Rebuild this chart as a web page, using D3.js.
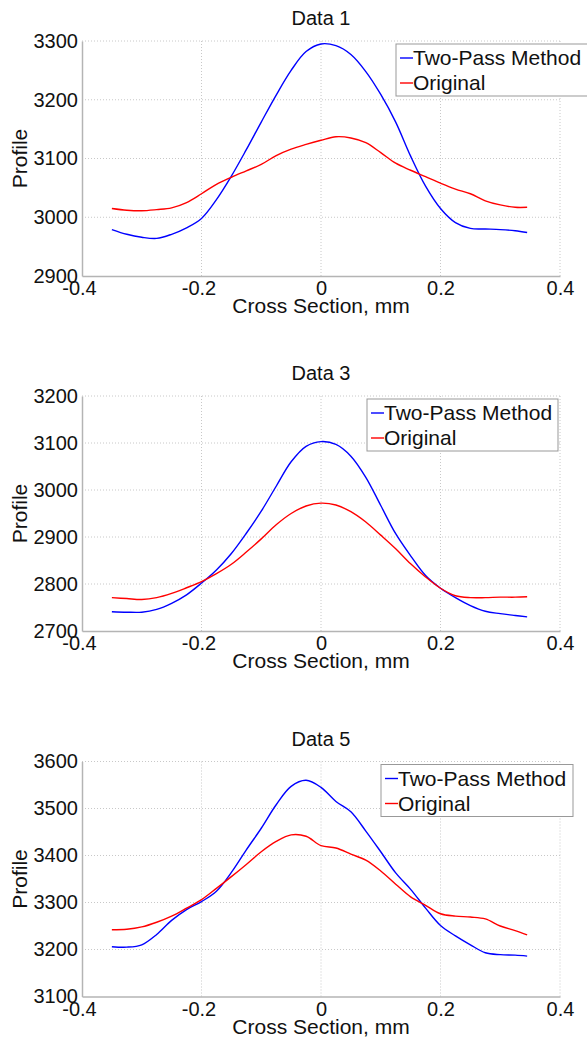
<!DOCTYPE html>
<html>
<head>
<meta charset="utf-8">
<script src="https://cdn.jsdelivr.net/npm/d3@7"></script>
<style>
  body { margin: 0; background: #fff; }
  svg { display: block; font-family: "Liberation Sans", Arial, sans-serif; }
</style>
</head>
<body>
<svg id="chart"></svg>
<script>
// cross section positions (mm), shared by every series
const xs = [-0.35, -0.325, -0.3, -0.275, -0.25, -0.225, -0.2, -0.175, -0.15, -0.125, -0.1, -0.075, -0.05, -0.025,
            0, 0.025, 0.05, 0.075, 0.1, 0.125, 0.15, 0.175, 0.2, 0.225, 0.25, 0.275, 0.3, 0.325, 0.345];

const titles = ["Data 1", "Data 3", "Data 5"];
const seriesNames = ["Two-Pass Method", "Original"];

const twoPass1 = [2979, 2971, 2966, 2964, 2971, 2982, 2998, 3030, 3070, 3115, 3162, 3208, 3250, 3282,
                  3295, 3292, 3277, 3248, 3209, 3162, 3104, 3053, 3015, 2991, 2981, 2980, 2979, 2977, 2974];
const original1 = [3015, 3012, 3011, 3013, 3016, 3025, 3040, 3056, 3068, 3079, 3090, 3105, 3116, 3124,
                   3131, 3137, 3135, 3127, 3110, 3092, 3080, 3069, 3058, 3048, 3040, 3028, 3021, 3017, 3017];

const twoPass3 = [2741, 2740, 2740, 2746, 2759, 2777, 2802, 2830, 2865, 2908, 2955, 3008, 3060, 3093,
                  3103, 3097, 3072, 3027, 2967, 2907, 2860, 2818, 2791, 2771, 2754, 2742, 2737, 2733, 2730];
const original3 = [2771, 2769, 2767, 2771, 2780, 2792, 2805, 2822, 2842, 2868, 2896, 2926, 2950, 2966,
                   2972, 2968, 2954, 2932, 2904, 2875, 2843, 2815, 2791, 2775, 2771, 2771, 2772, 2772, 2773];

const twoPass5 = [3206, 3205, 3210, 3232, 3262, 3285, 3302, 3324, 3364, 3412, 3458, 3508, 3547, 3560,
                  3545, 3515, 3493, 3452, 3408, 3363, 3328, 3288, 3251, 3229, 3210, 3193, 3189, 3188, 3186];
const original5 = [3242, 3243, 3248, 3258, 3271, 3288, 3306, 3330, 3355, 3381, 3408, 3430, 3444, 3441,
                   3421, 3416, 3403, 3390, 3367, 3339, 3312, 3294, 3276, 3271, 3269, 3265, 3250, 3240, 3231];

const xTicks = [-0.4, -0.2, 0, 0.2, 0.4];
const yDomains = [[2900, 3300], [2700, 3200], [3100, 3600]];

const panels = [
    {title: titles[0], series: [twoPass1, original1], yDomain: yDomains[0], top: 41, legX: 396, legW: 200},
    {title: titles[1], series: [twoPass3, original3], yDomain: yDomains[1], top: 396, legX: 367, legW: 191},
    {title: titles[2], series: [twoPass5, original5], yDomain: yDomains[2], top: 761.5, legX: 381, legW: 192}
];

const width = 587, height = 1038;
const left = 82, right = 560, plotH = 235;
const colors = ["#0000ff", "#ff0000"];
const font = "Liberation Sans, Arial, sans-serif";

const svg = d3.select("#chart").attr("width", width).attr("height", height);

const xScale = d3.scaleLinear().domain([-0.4, 0.4]).range([left, right]);

panels.forEach((p, pi) => {
    const g = svg.append("g");
    const yScale = d3.scaleLinear().domain(p.yDomain).range([p.top + plotH, p.top]);
    const yTicks = d3.range(p.yDomain[0], p.yDomain[1] + 1, 100);

    // dotted grid
    g.append("g").selectAll("line")
        .data(xTicks.slice(1))
        .join("line")
        .attr("x1", d => xScale(d)).attr("x2", d => xScale(d))
        .attr("y1", p.top).attr("y2", p.top + plotH)
        .attr("stroke", "#c8c8c8").attr("stroke-width", 1).attr("stroke-dasharray", "1,2");
    g.append("g").selectAll("line")
        .data(yTicks.slice(1))
        .join("line")
        .attr("x1", left).attr("x2", right)
        .attr("y1", d => yScale(d)).attr("y2", d => yScale(d))
        .attr("stroke", "#c8c8c8").attr("stroke-width", 1).attr("stroke-dasharray", "1,2");

    // axes
    const xAxis = g.append("g")
        .attr("transform", `translate(0, ${p.top + plotH})`)
        .call(d3.axisBottom(xScale).tickValues(xTicks).tickSize(0)
            .tickFormat(d => d === 0 ? "0" : d3.format(".1f")(d).replace("−", "-")));
    xAxis.select(".domain").attr("stroke", "#b4b4b4").attr("stroke-width", 1.5);
    xAxis.selectAll("text")
        .attr("y", 19).attr("dy", 0)
        .attr("dx", d => d < 0 ? -3 : 0)
        .attr("font-size", 20).attr("fill", "#111").attr("font-family", font);

    const yAxis = g.append("g")
        .attr("transform", `translate(${left}, 0)`)
        .call(d3.axisLeft(yScale).tickValues(yTicks).tickSize(0).tickPadding(4).tickFormat(d3.format("d")));
    yAxis.select(".domain").attr("stroke", "#b4b4b4").attr("stroke-width", 1.5);
    yAxis.selectAll("text").attr("font-size", 20).attr("fill", "#111").attr("font-family", font);

    // lines
    const line = d3.line()
        .x((d, i) => xScale(xs[i]))
        .y(d => yScale(d))
        .curve(d3.curveCatmullRom);

    p.series.forEach((s, si) => {
        g.append("path")
            .datum(s)
            .attr("fill", "none")
            .attr("stroke", colors[si])
            .attr("stroke-width", 1.4)
            .attr("d", line);
    });

    // title and axis labels
    g.append("text")
        .attr("x", (left + right) / 2).attr("y", p.top - 16)
        .attr("text-anchor", "middle").attr("font-size", 20).attr("fill", "#111")
        .text(p.title);
    g.append("text")
        .attr("x", (left + right) / 2).attr("y", p.top + plotH + 37)
        .attr("text-anchor", "middle").attr("font-size", 21).attr("fill", "#111")
        .text("Cross Section, mm");
    g.append("text")
        .attr("transform", `translate(27, ${p.top + plotH / 2}) rotate(-90)`)
        .attr("text-anchor", "middle").attr("font-size", 21).attr("fill", "#111")
        .text("Profile");

    // legend
    const leg = g.append("g").attr("transform", `translate(${p.legX}, ${p.top + 3})`);
    leg.append("rect")
        .attr("width", p.legW).attr("height", 52)
        .attr("fill", "#fff").attr("stroke", "#999").attr("stroke-width", 1);
    seriesNames.forEach((name, si) => {
        const cy = 14 + si * 25;
        leg.append("line")
            .attr("x1", 4).attr("x2", 17).attr("y1", cy).attr("y2", cy)
            .attr("stroke", colors[si]).attr("stroke-width", 1.4);
        leg.append("text")
            .attr("x", 17).attr("y", cy + 7)
            .attr("font-size", 21).attr("fill", "#111")
            .text(name);
    });
});
</script>
</body>
</html>
